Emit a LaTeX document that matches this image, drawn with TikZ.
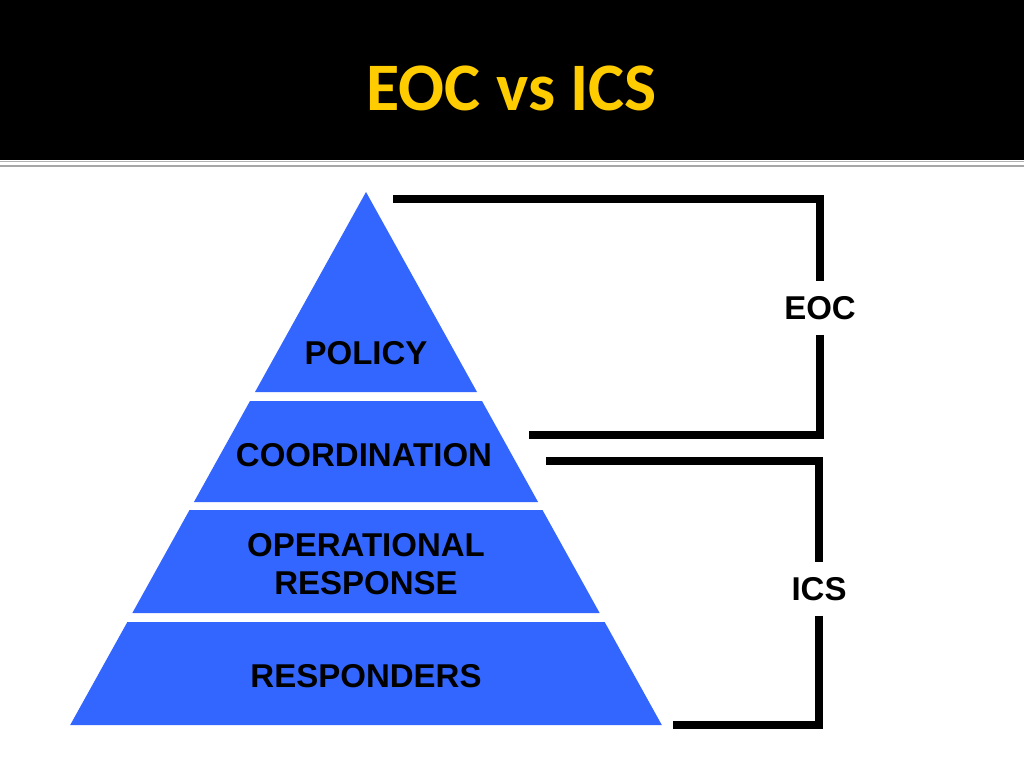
\documentclass[tikz,border=0pt]{standalone}
\usepackage{fontspec}
\setmainfont{Liberation Sans}
\newfontfamily\titlefont{Carlito}
\usetikzlibrary{calc}
\definecolor{layerblue}{RGB}{51,102,255}
\definecolor{titleyellow}{RGB}{255,204,0}

\begin{document}
\begin{tikzpicture}[x=1pt, y=-1pt,
                layer/.style={fill=layerblue},
                lbl/.style={font=\fontsize{33}{38}\selectfont\bfseries, align=center, inner sep=0pt},
                side/.style={font=\fontsize{33}{38}\selectfont\bfseries, minimum height=53pt, inner sep=0pt},
                bracket/.style={line width=8pt, line join=miter}
            ]
                \useasboundingbox (0,0) rectangle (1024,768);
                \fill[white] (0,0) rectangle (1024,768);
                \fill[black] (0,0) rectangle (1024,160);
                \draw[gray!60, line width=1pt] (0,161.5) -- (1024,161.5);
                \draw[gray!70, line width=1.5pt] (0,166) -- (1024,166);
                \node[font=\titlefont\fontsize{68}{80}\selectfont\bfseries, text=titleyellow] (title) at (512,88) {EOC vs ICS};

                \fill[layer] (366,192) -- ({366+0.555*200},392) -- ({366-0.555*200},392) -- cycle;
                \foreach \t/\b in {401/502, 510/613, 622/725}
                    \fill[layer] ({366-0.555*(\t-192)},\t) -- ({366+0.555*(\t-192)},\t)
                        -- ({366+0.555*(\b-192)},\b) -- ({366-0.555*(\b-192)},\b) -- cycle;

                \node[lbl] (policy) at (366,353) {POLICY};
                \node[lbl] (coord) at (364,455) {COORDINATION};
                \node[lbl] (oper) at (366,564) {OPERATIONAL\\RESPONSE};
                \node[lbl] (resp) at (366,676) {RESPONDERS};

                \node[side] (eoc) at (820,308) {EOC};
                \node[side] (ics) at (819,589) {ICS};

                \coordinate (eoctop) at (393,199);
                \coordinate (eocbot) at (529,435);
                \coordinate (icstop) at (546,461);
                \coordinate (icsbot) at (673,725);

                \draw[bracket] (eoctop) -| (eoc.north);
                \draw[bracket] (eoc.south) |- (eocbot);
                \draw[bracket] (icstop) -| (ics.north);
                \draw[bracket] (ics.south) |- (icsbot);
            \end{tikzpicture}
\end{document}
